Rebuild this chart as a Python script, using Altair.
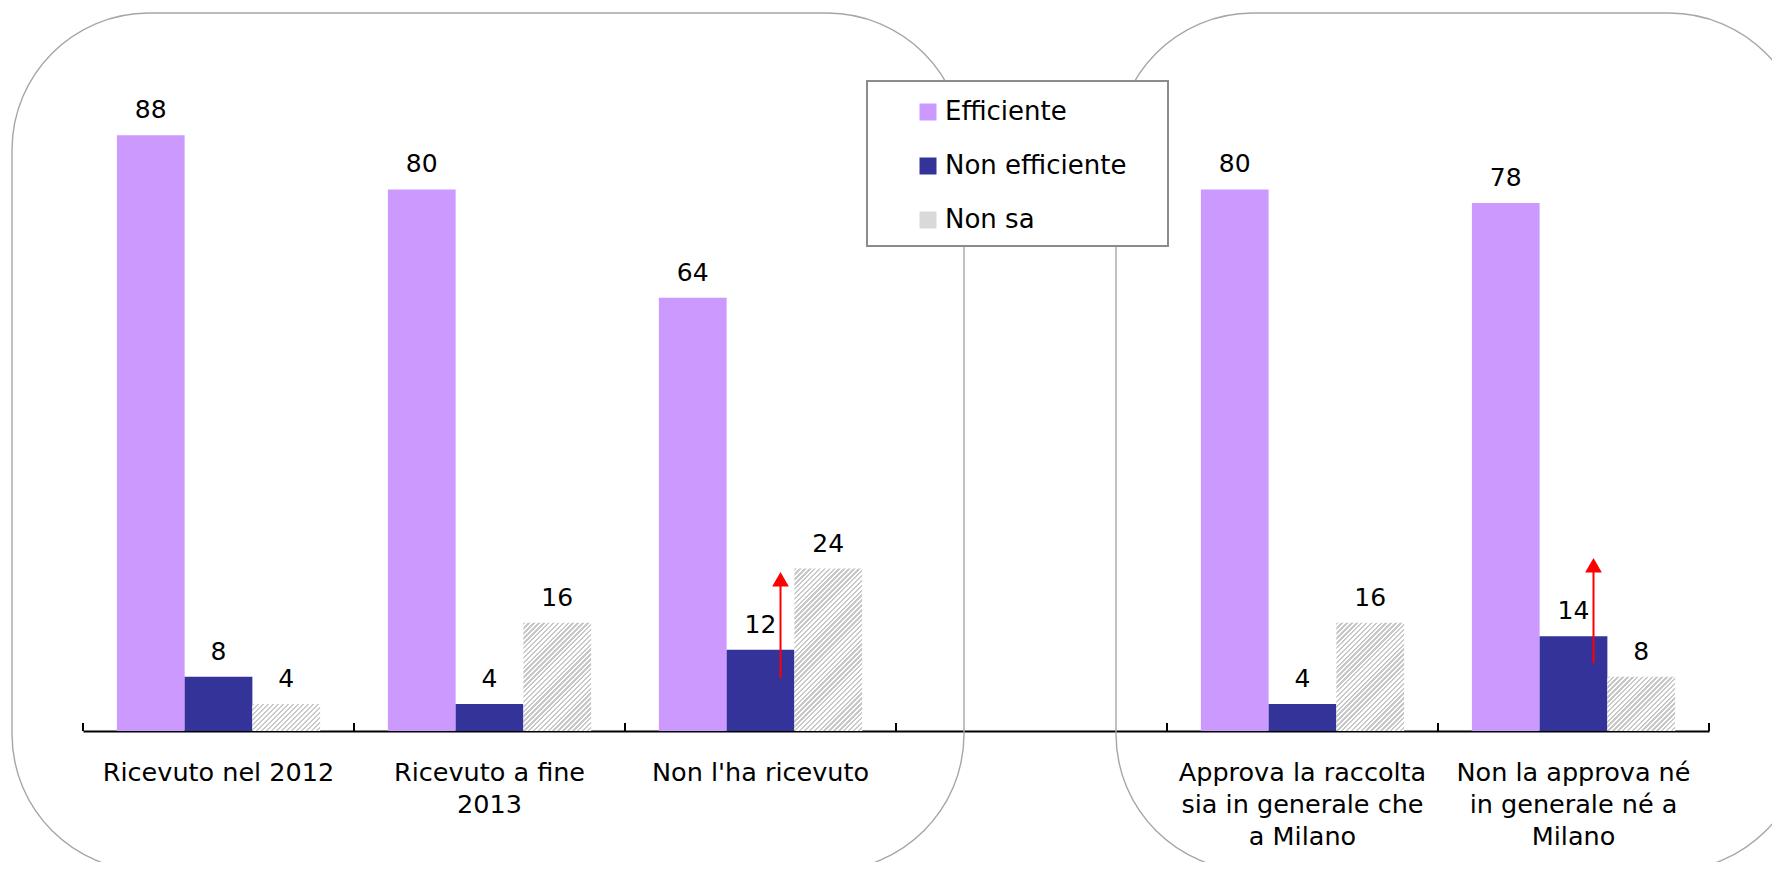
import altair as alt
import pandas as pd

# ---------------- data ----------------
categories = [
    "Ricevuto nel 2012",
    "Ricevuto a fine\n2013",
    "Non l'ha ricevuto",
    " ",
    "Approva la raccolta\nsia in generale che\na Milano",
    "Non la approva né\nin generale né a\nMilano",
]
series = ["Efficiente", "Non efficiente", "Non sa"]
efficiente = [88, 80, 64, None, 80, 78]
non_efficiente = [8, 4, 12, None, 4, 14]
non_sa = [4, 16, 24, None, 16, 8]
colors = ["#CC99FF", "#333399", "#D9D9D9"]

arrow_categories = [categories[2], categories[5]]
arrow_from = [7.8, 10.0]
arrow_to = [22.0, 24.0]
arrow_tip = [22.4, 24.5]

# ---------------- layout ----------------
W, H = 1626, 677
FONT = "DejaVu Sans"
STEP = W / len(categories) / 4.0  # bar width (3 bars + 0.5 padding each side)

rows = []
for i, c in enumerate(categories):
    for s, vals in zip(series, [efficiente, non_efficiente, non_sa]):
        v = vals[i]
        if v is not None:
            rows.append({"category": c, "series": s, "value": v})
df = pd.DataFrame(rows)

arrows = pd.DataFrame({"category": arrow_categories, "start": arrow_from,
                       "end": arrow_to, "tip": arrow_tip})

x_scale = alt.Scale(domain=categories, paddingInner=0, paddingOuter=0)
xo_scale = alt.Scale(domain=series, paddingInner=0, paddingOuter=0.5)
y_scale = alt.Scale(domain=[0, 100], nice=False, zero=True)

x_axis = alt.Axis(
    title=None, labelExpr="split(datum.label, '\\n')", ticks=False,
    domainColor="black", domainWidth=2, labelFont=FONT, labelFontSize=25.5,
    labelColor="black", labelPadding=29, labelLineHeight=32, labelAngle=0,
    labelBaseline="top", labelLimit=400, labelOverlap=False, grid=False,
)


def X(**kw):
    return alt.X("category:N", scale=x_scale, axis=x_axis, **kw)


Y = alt.Y("value:Q", scale=y_scale, axis=None)
XO = alt.XOffset("series:N", scale=xo_scale)

one = pd.DataFrame({"k": [0]})


def frame(x1, x2, y1, y2):
    return alt.Chart(one).mark_rect(
        fill="white", fillOpacity=0, stroke="#a6a6a6", strokeWidth=1.4,
        cornerRadius=137,
    ).encode(x=alt.value(x1), x2=alt.value(x2), y=alt.value(y1), y2=alt.value(y2))


frames = [frame(-71, 881, -41, 817), frame(1033, 1723, -41, 817)]

legend_box = alt.Chart(one).mark_rect(
    fill="white", stroke="#8c8c8c", strokeWidth=2
).encode(x=alt.value(784), x2=alt.value(1085), y=alt.value(27), y2=alt.value(192))

bars = alt.Chart(df).transform_filter(alt.datum.series != "Non sa").mark_bar().encode(
    x=X(), xOffset=XO, y=Y,
    color=alt.Color(
        "series:N", scale=alt.Scale(domain=series, range=colors),
        legend=alt.Legend(
            orient="none", legendX=832, legendY=45, direction="vertical",
            title=None, symbolType="square", symbolSize=289, symbolStrokeWidth=0,
            labelFont=FONT, labelFontSize=26, labelColor="black",
            rowPadding=28, labelOffset=4, padding=0, labelLimit=400,
        ),
    ),
)


def hatch(h, w, period=3.5, c1="#ffffff", c2="#c8c8c8"):
    k = (1 / h + 1 / w) / (1 / h ** 2 + 1 / w ** 2)
    L = (w + h) / 2 ** 0.5
    n = max(1, int(round(L / period)))
    stops = []
    for i in range(n):
        a, b, c = i / n, (i + 0.5) / n, (i + 1) / n
        stops += [
            {"offset": a, "color": c2}, {"offset": b, "color": c2},
            {"offset": b, "color": c1}, {"offset": c, "color": c1},
        ]
    return alt.LinearGradient(gradient="linear", stops=stops,
                              x1=0, y1=0, x2=k / h, y2=k / w)


hatch_layers = []
for c, v in zip(categories, non_sa):
    if v is None:
        continue
    h = v * H / 100.0
    hatch_layers.append(
        alt.Chart(df)
        .transform_filter((alt.datum.series == "Non sa") & (alt.datum.category == c))
        .mark_bar(color=hatch(h, STEP))
        .encode(x=X(), xOffset=XO, y=Y)
    )

labels = alt.Chart(df).mark_text(
    baseline="alphabetic", dy=-17, fontSize=25, font=FONT, color="black"
).encode(x=X(), xOffset=XO, y=Y, text="value:Q")

tick_df = pd.DataFrame({"category": categories})
ticks = alt.Chart(tick_df).mark_rule(color="black", strokeWidth=2).encode(
    x=X(bandPosition=0), y=alt.value(H - 8), y2=alt.value(H)
)
last_tick = alt.Chart(tick_df.tail(1)).mark_rule(color="black", strokeWidth=2).encode(
    x=X(bandPosition=1), y=alt.value(H - 8), y2=alt.value(H)
)

arrow_lines = alt.Chart(arrows).mark_rule(color="red", strokeWidth=2, xOffset=20).encode(
    x=X(), y=alt.Y("start:Q", scale=y_scale, axis=None), y2="end:Q"
)
arrow_heads = alt.Chart(arrows).mark_point(
    shape="triangle-up", filled=True, color="red", opacity=1, size=280, xOffset=20
).encode(x=X(), y=alt.Y("tip:Q", scale=y_scale, axis=None))

chart = alt.layer(
    *frames, legend_box, bars, *hatch_layers, labels, ticks, last_tick,
    arrow_lines, arrow_heads,
).properties(
    width=W, height=H,
    padding={"left": 75, "top": 46, "right": 63, "bottom": 131},
    autosize=alt.AutoSizeParams(type="none"),
).configure_view(stroke=None)

chart.save("out.html", embed_options={"renderer": "svg", "actions": False})
